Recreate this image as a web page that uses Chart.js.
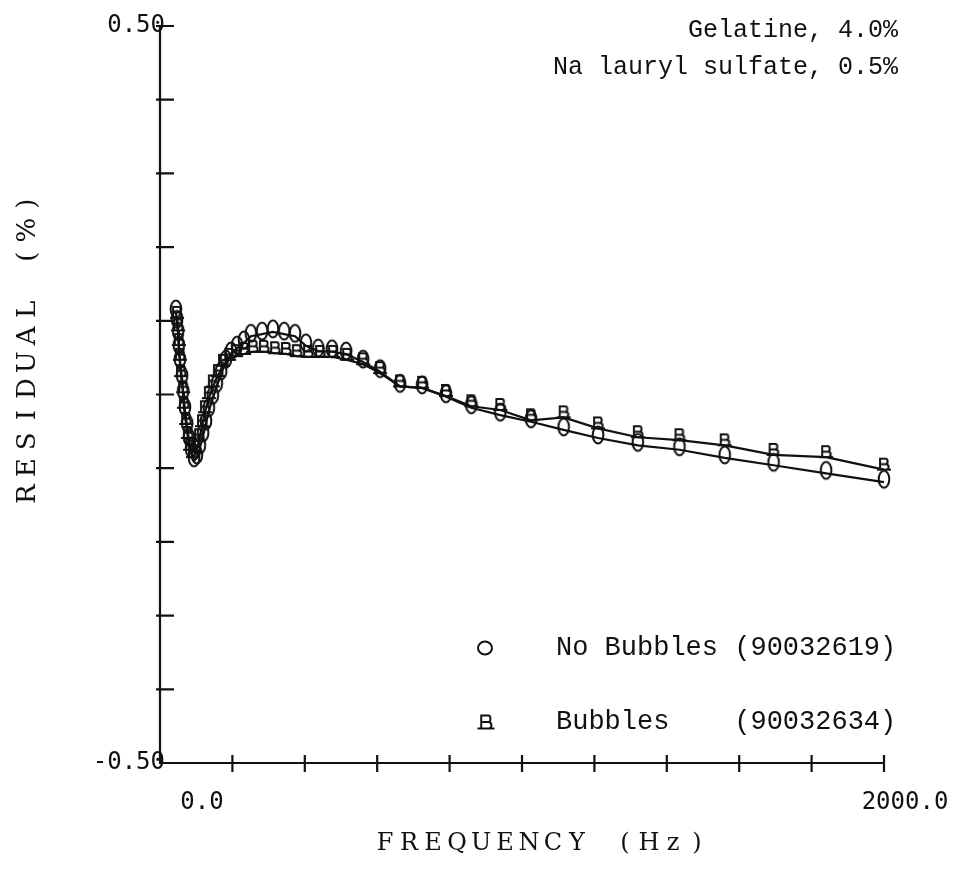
<!DOCTYPE html>
<html>
<head>
<meta charset="utf-8">
<title>Residual vs frequency</title>
<script src="https://cdn.jsdelivr.net/npm/chart.js@4.4.1/dist/chart.umd.min.js"></script>
<style>
    html, body { margin: 0; padding: 0; background: #fff; }
    canvas { display: block; }
</style>
</head>
<body>
<canvas id="residualChart" width="954" height="888"></canvas>
<script>
// Series (frequency in Hz, residual in %)
const freqNoBubbles = [44, 47, 50, 52, 55, 61, 64, 69, 75, 80, 86, 94, 102, 110, 119, 127, 135, 146, 157, 169,
    182, 196, 213, 232, 251, 282, 312, 343, 373, 403, 437, 475, 514, 561, 608, 663, 724, 790, 860, 940,
    1025, 1115, 1210, 1320, 1435, 1560, 1695, 1840, 2000];
const resNoBubbles = [0.112, 0.098, 0.082, 0.063, 0.044, 0.022, 0.001, -0.021, -0.043, -0.062, -0.078, -0.090, -0.086, -0.073, -0.056, -0.040, -0.022, -0.005, 0.011, 0.028,
    0.044, 0.055, 0.063, 0.070, 0.079, 0.082, 0.085, 0.082, 0.079, 0.066, 0.059, 0.058, 0.055, 0.044, 0.031, 0.011, 0.009, -0.003, -0.018, -0.028,
    -0.037, -0.048, -0.059, -0.069, -0.075, -0.086, -0.096, -0.107, -0.119];

const freqBubbles = [47, 50, 52, 55, 58, 64, 66, 72, 77, 83, 91, 99, 108, 116, 124, 135, 146, 160, 174, 191,
    210, 232, 257, 287, 318, 348, 378, 409, 442, 478, 517, 561, 608, 663, 724, 790, 860, 940,
    1025, 1115, 1210, 1320, 1435, 1560, 1695, 1840, 2000];
const resBubbles = [0.104, 0.087, 0.067, 0.047, 0.025, 0.003, -0.018, -0.040, -0.059, -0.075, -0.085, -0.078, -0.062, -0.043, -0.024, -0.005, 0.011, 0.025, 0.039, 0.047,
    0.052, 0.055, 0.058, 0.058, 0.056, 0.055, 0.052, 0.051, 0.051, 0.051, 0.047, 0.041, 0.029, 0.011, 0.009, -0.002, -0.016, -0.021,
    -0.035, -0.031, -0.046, -0.058, -0.062, -0.069, -0.082, -0.085, -0.102];

const xTickValues = [0, 200, 400, 600, 800, 1000, 1200, 1400, 1600, 1800, 2000];
const yTickValues = [-0.5, -0.4, -0.3, -0.2, -0.1, 0, 0.1, 0.2, 0.3, 0.4, 0.5];
const xLabelValues = [0, 2000];
const xLabelTexts = ['0.0', '2000.0'];
const yLabelValues = [0.5, -0.5];
const yLabelTexts = ['0.50', '-0.50'];

const notes = ['Gelatine, 4.0%', 'Na lauryl sulfate, 0.5%'];
const legendNames = ['No Bubbles (90032619)', 'Bubbles    (90032634)'];
const xTitle = 'FREQUENCY (Hz)';
const yTitle = 'RESIDUAL (%)';

const INK = '#111';

function drawOGlyph(g, cx, cy, rx, ry) {
    g.beginPath();
    g.ellipse(cx, cy, rx, ry, 0, 0, Math.PI * 2);
    g.stroke();
}

// plotter "B" symbol: stem, two bowls and a wide flat base
function drawBGlyph(g, cx, cy, w, h) {
    const l = cx - w * 0.28, r = cx + w * 0.26;
    const t = cy - h / 2, b = cy + h / 2, m = cy;
    g.beginPath();
    g.moveTo(cx - w / 2, b);
    g.lineTo(cx + w / 2, b);
    g.moveTo(l, b);
    g.lineTo(l, t);
    g.lineTo(r - 2, t);
    g.quadraticCurveTo(r, t, r, (t + m) / 2);
    g.quadraticCurveTo(r, m, r - 2, m);
    g.lineTo(l, m);
    g.moveTo(r - 2, m);
    g.quadraticCurveTo(r + 1, m, r + 1, (m + b) / 2);
    g.quadraticCurveTo(r + 1, b, r - 2, b);
    g.stroke();
}

function makeMarker(kind) {
    const c = document.createElement('canvas');
    c.width = 20;
    c.height = 30;
    const g = c.getContext('2d');
    g.strokeStyle = INK;
    g.lineWidth = 2;
    if (kind === 'O') {
        drawOGlyph(g, 10, 12, 5.3, 8.5);
    } else {
        drawBGlyph(g, 10, 9.5, 14, 11);
    }
    return c;
}

// draw text with a fixed cell per character (typewriter look)
function drawSpaced(ctx, text, cx, cy, cell) {
    const x0 = cx - (text.length * cell) / 2 + cell / 2;
    for (let i = 0; i < text.length; i++) {
        ctx.fillText(text[i], x0 + i * cell, cy);
    }
}

const framePlugin = {
    id: 'frame',
    beforeDraw(chart) {
        const ctx = chart.ctx;
        ctx.save();
        ctx.fillStyle = '#fff';
        ctx.fillRect(0, 0, chart.width, chart.height);
        ctx.restore();
    },
    afterDraw(chart) {
        const ctx = chart.ctx;
        const xs = chart.scales.x;
        const ys = chart.scales.y;
        const area = chart.chartArea;

        ctx.save();
        ctx.strokeStyle = INK;
        ctx.fillStyle = INK;
        ctx.lineWidth = 2.2;

        // axes
        ctx.beginPath();
        ctx.moveTo(area.left, area.top);
        ctx.lineTo(area.left, area.bottom);
        ctx.lineTo(area.right, area.bottom);
        ctx.stroke();

        // tick marks crossing the axes
        ctx.beginPath();
        yTickValues.forEach(v => {
            if (v === yTickValues[0]) return;
            const y = ys.getPixelForValue(v);
            ctx.moveTo(area.left - 4, y);
            ctx.lineTo(area.left + 14, y);
        });
        xTickValues.forEach(v => {
            if (v === xTickValues[0]) return;
            const x = xs.getPixelForValue(v);
            ctx.moveTo(x, area.bottom - 8);
            ctx.lineTo(x, area.bottom + 9);
        });
        ctx.stroke();

        // tick labels
        ctx.font = '24px "DejaVu Sans Mono"';
        ctx.textAlign = 'right';
        ctx.textBaseline = 'middle';
        yLabelValues.forEach((v, i) => {
            ctx.fillText(yLabelTexts[i], area.left + 5, ys.getPixelForValue(v));
        });
        ctx.textAlign = 'center';
        const xLabelShift = [42, 21];
        xLabelValues.forEach((v, i) => {
            ctx.fillText(xLabelTexts[i], xs.getPixelForValue(v) + xLabelShift[i], area.bottom + 40);
        });

        // axis titles
        ctx.font = '24px "DejaVu Serif"';
        drawSpaced(ctx, xTitle, 541, 844, 24);
        ctx.save();
        ctx.translate(28, 349);
        ctx.rotate(-Math.PI / 2);
        ctx.font = '26px "DejaVu Serif"';
        drawSpaced(ctx, yTitle, 0, 0, 26.4);
        ctx.restore();

        // sample notes, top right
        ctx.font = '25px "Liberation Mono"';
        ctx.textAlign = 'right';
        ctx.fillText(notes[0], 898, 30);
        ctx.fillText(notes[1], 898, 67);

        // legend
        ctx.lineWidth = 2;
        drawOGlyph(ctx, 485, 648, 7, 6.5);
        drawBGlyph(ctx, 486, 722, 17, 13);
        ctx.font = '27px "Liberation Mono"';
        ctx.textAlign = 'left';
        ctx.fillText(legendNames[0], 556, 648);
        ctx.fillText(legendNames[1], 556, 722);

        ctx.restore();
    }
};

const toPoints = (xs, ys) => xs.map((x, i) => ({ x: x, y: ys[i] }));

const ctx = document.getElementById('residualChart').getContext('2d');
new Chart(ctx, {
    type: 'scatter',
    data: {
        datasets: [
            {
                label: legendNames[0],
                data: toPoints(freqNoBubbles, resNoBubbles),
                showLine: true,
                borderColor: INK,
                borderWidth: 2.2,
                tension: 0,
                pointStyle: makeMarker('O'),
                pointRadius: 5,
                clip: false
            },
            {
                label: legendNames[1],
                data: toPoints(freqBubbles, resBubbles),
                showLine: true,
                borderColor: INK,
                borderWidth: 2.2,
                tension: 0,
                pointStyle: makeMarker('B'),
                pointRadius: 5,
                clip: false
            }
        ]
    },
    options: {
        responsive: false,
        animation: false,
        layout: { padding: { left: 160, right: 70, top: 26, bottom: 125 } },
        scales: {
            x: { type: 'linear', min: 0, max: 2000, display: false },
            y: { type: 'linear', min: -0.5, max: 0.5, display: false }
        },
        plugins: {
            legend: { display: false },
            tooltip: { enabled: false }
        }
    },
    plugins: [framePlugin]
});
</script>
</body>
</html>
